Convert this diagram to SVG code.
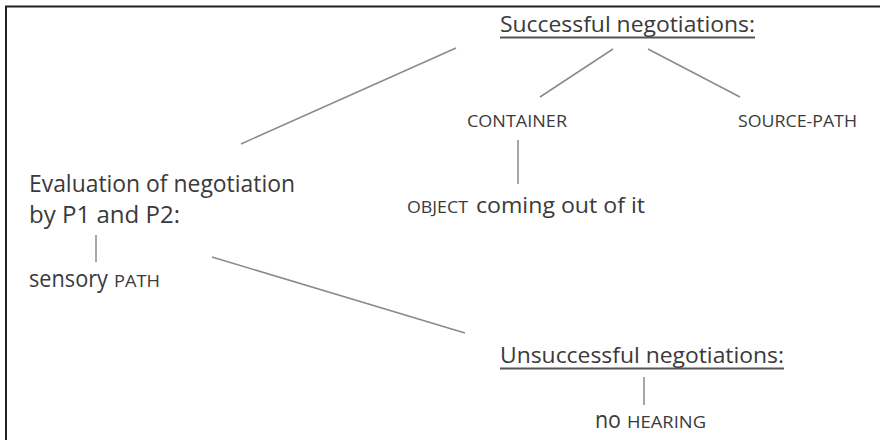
<svg xmlns="http://www.w3.org/2000/svg" width="880" height="440" viewBox="0 0 880 440">
  <style>
    text { font-family: "Open Sans", "Noto Sans", "Liberation Sans", sans-serif; fill: #3a3a3a; }
    .big { font-size: 22px; }
    .lg { font-size: 23px; }
    .sc { font-size: 16px; }
    .link { stroke: #8a8a8a; stroke-width: 1.5; fill: none; }
    .ul { stroke: #555; stroke-width: 2; }
    .frame { stroke: #222; stroke-width: 2; fill: none; }
  </style>

  <rect width="880" height="440" fill="#fff"/>
  <path class="frame" d="M6,440 V6.5 H880"/>

  <g id="connectors">
    <line class="link" x1="456" y1="48" x2="241" y2="144"/>
    <line class="link" x1="613" y1="49" x2="540" y2="97"/>
    <line class="link" x1="648" y1="49" x2="740" y2="97"/>
    <line class="link" x1="518" y1="140" x2="518" y2="184"/>
    <line class="link" x1="96" y1="235" x2="96" y2="262"/>
    <line class="link" x1="212" y1="257" x2="465" y2="333"/>
    <line class="link" x1="644" y1="377" x2="644" y2="405"/>
  </g>

  <g id="successful">
    <text class="big" x="500" y="32" textLength="255" lengthAdjust="spacingAndGlyphs">Successful negotiations:</text>
    <line class="ul" x1="500" y1="37.5" x2="755" y2="37.5"/>
  </g>

  <g id="container">
    <text class="sc" x="467" y="127" textLength="100" lengthAdjust="spacingAndGlyphs">CONTAINER</text>
  </g>

  <g id="source-path">
    <text class="sc" x="738" y="127" textLength="119" lengthAdjust="spacingAndGlyphs">SOURCE-PATH</text>
  </g>

  <g id="object">
    <text class="sc" x="407" y="213" textLength="61" lengthAdjust="spacingAndGlyphs">OBJECT</text>
    <text class="big" x="476" y="213" textLength="169" lengthAdjust="spacingAndGlyphs">coming out of it</text>
  </g>

  <g id="evaluation">
    <text class="lg" x="29" y="192" textLength="266" lengthAdjust="spacingAndGlyphs">Evaluation of negotiation</text>
    <text class="lg" x="29" y="223" textLength="151" lengthAdjust="spacingAndGlyphs">by P1 and P2:</text>
  </g>

  <g id="sensory-path">
    <text class="lg" x="29" y="287" textLength="79" lengthAdjust="spacingAndGlyphs">sensory</text>
    <text class="sc" x="114" y="287" textLength="46" lengthAdjust="spacingAndGlyphs">PATH</text>
  </g>

  <g id="unsuccessful">
    <text class="big" x="500" y="363" textLength="284" lengthAdjust="spacingAndGlyphs">Unsuccessful negotiations:</text>
    <line class="ul" x1="500" y1="368.5" x2="784" y2="368.5"/>
  </g>

  <g id="no-hearing">
    <text class="lg" x="595" y="428" textLength="26" lengthAdjust="spacingAndGlyphs">no</text>
    <text class="sc" x="627" y="428" textLength="79" lengthAdjust="spacingAndGlyphs">HEARING</text>
  </g>
</svg>
